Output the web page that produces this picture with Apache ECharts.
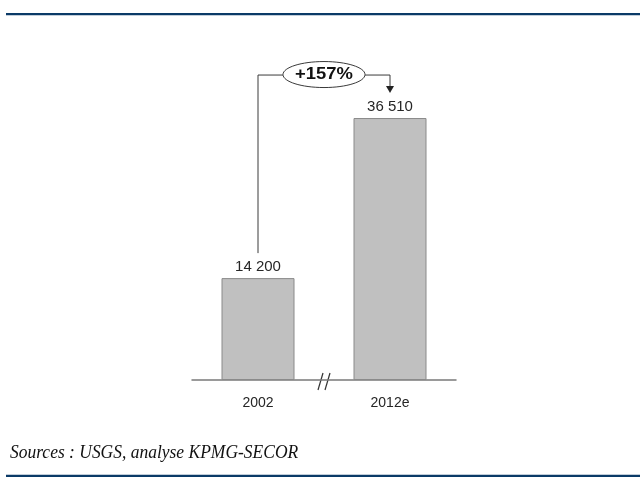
<!DOCTYPE html>
<html>
<head>
<meta charset="utf-8">
<script src="https://cdn.jsdelivr.net/npm/echarts@6/dist/echarts.min.js"></script>
<style>
  html, body { margin: 0; padding: 0; background: #fff; }
  #chart { width: 640px; height: 487px; }
</style>
</head>
<body>
<div id="chart"></div>
<script>
// Production figures by year (2012 is an estimate)
const categories = ['2002', '2012e'];
const values = [14200, 36510];
const sourceText = 'Sources : USGS, analyse KPMG-SECOR';

const rule = '#0b3a67';
const grey = '#7a7a7a';
const textColor = '#262626';

// "14 200" style thousands separator
function fmt(v) {
  return String(v).replace(/\B(?=(\d{3})+(?!\d))/g, ' ');
}

const chart = echarts.init(document.getElementById('chart'), null, { renderer: 'canvas' });

chart.setOption({
  animation: false,
  backgroundColor: '#ffffff',
  grid: { left: 192, right: 184, top: 93, bottom: 107 },
  xAxis: {
    type: 'category',
    data: categories,
    axisLine: { lineStyle: { color: grey, width: 1.5 } },
    axisTick: { show: false },
    axisLabel: { color: textColor, fontFamily: 'Liberation Sans', fontSize: 14, margin: 16 }
  },
  yAxis: {
    type: 'value',
    min: 0,
    max: 40000,
    show: false,
    splitLine: { show: false }
  },
  series: [{
    type: 'bar',
    data: values,
    barWidth: 73,
    itemStyle: { color: '#c0c0c0', borderColor: '#8a8a8a', borderWidth: 1 },
    label: {
      show: true,
      position: 'top',
      distance: 4,
      color: textColor,
      fontFamily: 'Liberation Sans',
      fontSize: 15,
      formatter: p => fmt(p.value)
    }
  }]
});

// Growth connector, break mark and page rules, placed from the axis scales
const p0 = chart.convertToPixel({ gridIndex: 0 }, [0, values[0]]);
const p1 = chart.convertToPixel({ gridIndex: 0 }, [1, values[1]]);
const base = chart.convertToPixel({ gridIndex: 0 }, [0, 0]);
const growth = Math.round((values[1] / values[0] - 1) * 100);

const yTop = p1[1] - 43;
const midX = (p0[0] + p1[0]) / 2;
const rx = 41, ry = 13;
const lineStyle = { stroke: '#3a3a3a', lineWidth: 1, fill: null };
const slash = { stroke: '#333', lineWidth: 1.2 };
const by = base[1];

chart.setOption({
  graphic: [
    { type: 'rect', shape: { x: 6, y: 13, width: 634, height: 2.2 }, style: { fill: rule } },
    { type: 'rect', shape: { x: 6, y: 474.8, width: 634, height: 2.2 }, style: { fill: rule } },
    {
      type: 'text', x: 10, y: 453, scaleX: 0.92,
      style: {
        text: sourceText, fill: '#111', font: 'italic 19px "Liberation Serif"',
        verticalAlign: 'middle'
      }
    },
    {
      type: 'polyline',
      shape: { points: [[p0[0], p0[1] - 25], [p0[0], yTop], [midX - rx, yTop]] },
      style: lineStyle
    },
    {
      type: 'polyline',
      shape: { points: [[midX + rx, yTop], [p1[0], yTop], [p1[0], p1[1] - 31]] },
      style: lineStyle
    },
    {
      type: 'polygon',
      shape: { points: [[p1[0] - 4, p1[1] - 32], [p1[0] + 4, p1[1] - 32], [p1[0], p1[1] - 25]] },
      style: { fill: '#222' }
    },
    {
      type: 'ellipse',
      shape: { cx: midX, cy: yTop - 0.5, rx: rx, ry: ry },
      style: { stroke: '#3a3a3a', lineWidth: 1, fill: '#fff' }
    },
    {
      type: 'text', x: midX, y: yTop - 0.5, scaleX: 1.15,
      style: {
        text: '+' + growth + '%', fill: '#111', font: 'bold 16px "Liberation Sans"',
        align: 'center', verticalAlign: 'middle'
      }
    },
    // axis break "//"
    { type: 'line', shape: { x1: midX - 6, y1: by + 10, x2: midX - 1, y2: by - 7 }, style: slash },
    { type: 'line', shape: { x1: midX + 1, y1: by + 10, x2: midX + 6, y2: by - 7 }, style: slash }
  ]
});
</script>
</body>
</html>
